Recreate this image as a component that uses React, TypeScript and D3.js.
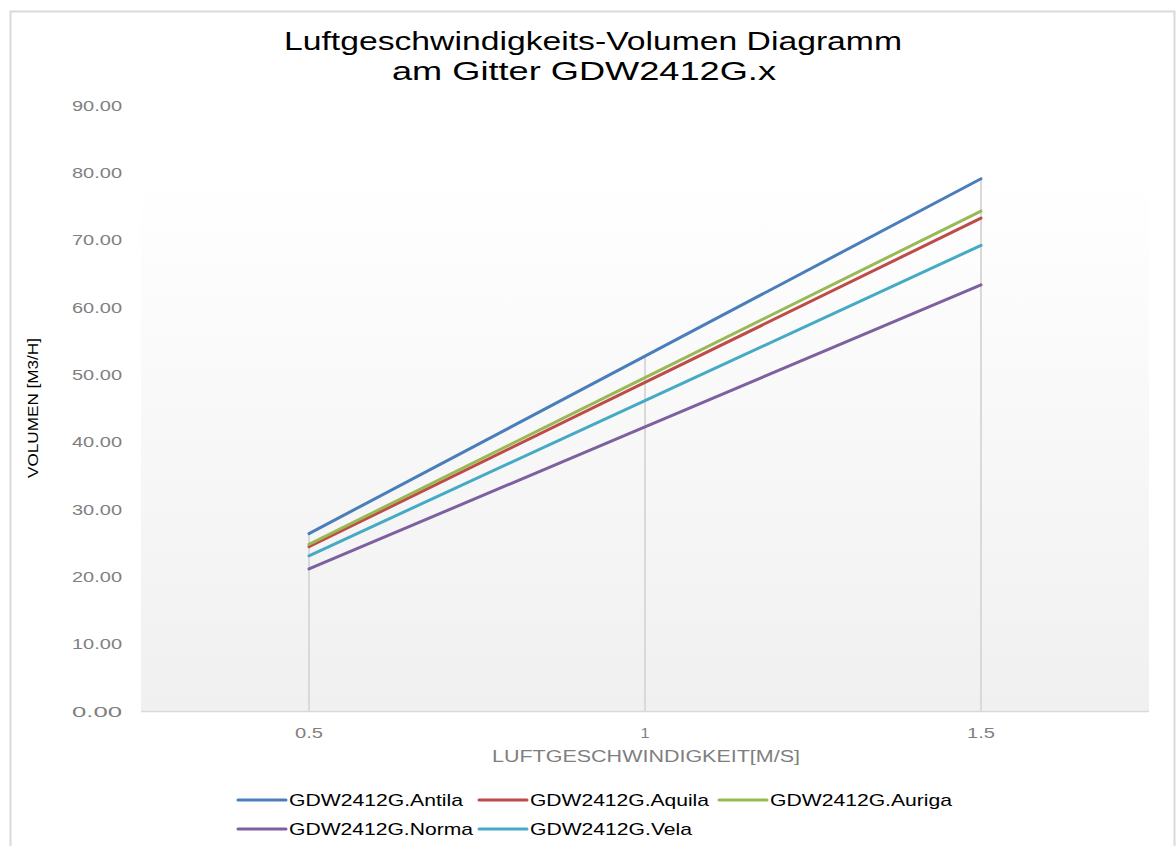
import React from "react";
import * as d3 from "d3";

const categories = ["0.5", "1", "1.5"];
const seriesNames = ["GDW2412G.Antila", "GDW2412G.Aquila", "GDW2412G.Auriga", "GDW2412G.Norma", "GDW2412G.Vela"];
const antila = [26.35, 52.7, 79.05];
const aquila = [24.4, 48.8, 73.2];
const auriga = [24.75, 49.5, 74.25];
const norma = [21.1, 42.2, 63.3];
const vela = [23.05, 46.1, 69.15];
const yTicks = [0, 10, 20, 30, 40, 50, 60, 70, 80, 90];
const colors = ["#4a7ebb", "#be4b48", "#98b954", "#7d60a0", "#46aac5"];

const seriesValues = [antila, aquila, auriga, norma, vela];

export default function App() {
  const W = 1176, H = 846;
  const left = 141, right = 1149, top = 105, bottom = 711;
  const x = d3.scaleBand().domain(categories).range([left, right]).paddingInner(0).paddingOuter(0);
  const y = d3.scaleLinear().domain([0, 90]).range([bottom, top]);
  const cx = (c: string) => (x(c) as number) + x.bandwidth() / 2;
  const line = d3.line<[string, number]>().x(d => cx(d[0])).y(d => y(d[1]));
  const font = "'Liberation Sans', Arial, sans-serif";

  const legendPos = [
    [238, 800], [479, 800], [719, 800], [238, 829], [479, 829],
  ];
  const legendLen = [174, 179, 182, 184, 162];

  return (
    <svg width={W} height={H} style={{ position: "absolute", left: 0, top: 0, display: "block" }}
      fontFamily={font}>
      <defs>
        <linearGradient id="pa" x1="0" y1="0" x2="0" y2="1">
          <stop offset="0" stopColor="#ffffff" />
          <stop offset="1" stopColor="#f0f0f0" />
        </linearGradient>
      </defs>
      <rect x={0} y={0} width={W} height={H} fill="#fff" />
      <rect x={10.5} y={11.5} width={1164} height={H + 20} fill="#fff" stroke="#d9d9d9" strokeWidth={2} />
      <rect x={left} y={175} width={right - left} height={bottom - 175} fill="url(#pa)" />
      <text x={284} y={50} fontSize={26} fill="#000" textLength={618} lengthAdjust="spacingAndGlyphs">Luftgeschwindigkeits-Volumen  Diagramm</text>
      <text x={392} y={80} fontSize={26} fill="#000" textLength={384} lengthAdjust="spacingAndGlyphs">am Gitter GDW2412G.x</text>

      {yTicks.map(t => (
        <text key={t} x={122} y={y(t) + 5.5} textAnchor="end" fontSize={15.5} fill="#7f7f7f" textLength={50} lengthAdjust="spacingAndGlyphs">{t.toFixed(2)}</text>
      ))}

      {categories.map((c, i) => {
        const maxV = d3.max(seriesValues, s => s[i]) as number;
        return <line key={c} x1={cx(c)} x2={cx(c)} y1={y(maxV)} y2={bottom} stroke="#d9d9d9" strokeWidth={2} />;
      })}

      <line x1={left} x2={right} y1={bottom + 0.5} y2={bottom + 0.5} stroke="#d9d9d9" strokeWidth={1.5} />

      {categories.map(c => (
        <text key={c} x={cx(c)} y={738} textAnchor="middle" fontSize={15.5} fill="#7f7f7f"
          textLength={c.length === 1 ? 9 : 28} lengthAdjust="spacingAndGlyphs">{c}</text>
      ))}
      <text x={492} y={762} fontSize={16} fill="#7f7f7f" textLength={308} lengthAdjust="spacingAndGlyphs">LUFTGESCHWINDIGKEIT[M/S]</text>
      <text transform="translate(38,408) rotate(-90)" textAnchor="middle" fontSize={14.5} fill="#000" textLength={140} lengthAdjust="spacingAndGlyphs">VOLUMEN [M3/H]</text>

      {seriesValues.map((s, i) => (
        <path key={i} d={line(categories.map((c, j) => [c, s[j]] as [string, number])) || ""}
          fill="none" stroke={colors[i]} strokeWidth={3} strokeLinecap="round" />
      ))}

      {seriesNames.map((n, i) => {
        const [lx, ly] = legendPos[i];
        return (
          <g key={n}>
            <line x1={lx} x2={lx + 48} y1={ly} y2={ly} stroke={colors[i]} strokeWidth={3} strokeLinecap="round" />
            <text x={lx + 51} y={ly + 6} fontSize={17} fill="#000" textLength={legendLen[i]} lengthAdjust="spacingAndGlyphs">{n}</text>
          </g>
        );
      })}
    </svg>
  );
}
